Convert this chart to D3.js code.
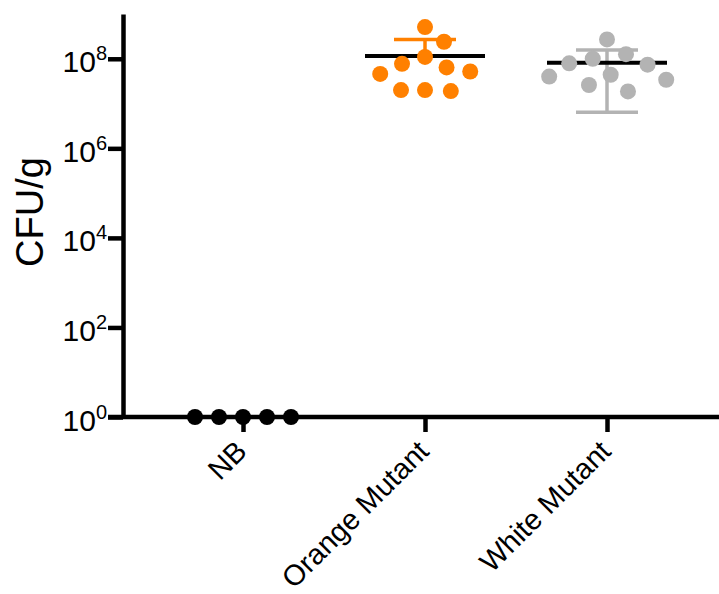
<!DOCTYPE html>
<html>
<head>
<meta charset="utf-8">
<script src="https://cdn.jsdelivr.net/npm/d3@7"></script>
<style>
  body { margin: 0; background: #fff; }
  svg { display: block; }
</style>
</head>
<body>
<div id="chart"></div>
<script>
// values (CFU/g)
var groups = ['NB', 'Orange Mutant', 'White Mutant'];
var nbValues = [1, 1, 1, 1, 1];
var orangeValues = [5.1e8, 2.4e8, 1.1e8, 7.7e7, 5.2e7, 6.4e7, 4.6e7, 2.0e7, 1.9e7, 2.0e7];
var whiteValues = [2.7e8, 1.27e8, 1.0e8, 7.9e7, 7.4e7, 4.4e7, 4.0e7, 3.4e7, 2.6e7, 1.87e7];
var groupColors = ['#000000', '#FF8000', '#B3B3B3'];
var yTicks = [1, 1e2, 1e4, 1e6, 1e8];

var width = 719;
var height = 594;
var mainFont = '"Liberation Sans", Arial, Helvetica, sans-serif';
var axisWidth = 4.5;
var dotRadius = 8;
var minGap = 24; // centre distance between dots in the swarm

var series = [nbValues, orangeValues, whiteValues];

var svg = d3.select('#chart').append('svg')
    .attr('width', width)
    .attr('height', height)
    .style('font-family', mainFont);

var y = d3.scaleLog().domain([1, 1e9]).range([417, 14]);
var x = d3.scalePoint().domain(groups).range([243, 607]);
var axisX = 123;

// y axis
var yAxis = svg.append('g')
    .attr('transform', 'translate(' + axisX + ',0)')
    .call(d3.axisLeft(y).tickValues(yTicks).tickSize(15).tickSizeOuter(0).tickPadding(1));
yAxis.select('.domain').attr('stroke-width', axisWidth);
yAxis.selectAll('.tick line').attr('stroke-width', axisWidth);
yAxis.selectAll('.tick text')
    .attr('font-size', 30)
    .attr('font-family', mainFont)
    .attr('dy', 13)
    .text(null)
    .each(function(d) {
        var t = d3.select(this);
        t.append('tspan').text('10');
        t.append('tspan')
            .attr('dy', -12)
            .attr('font-size', 20)
            .text(Math.round(Math.log10(d)));
    });

// x axis
var xAxis = svg.append('g')
    .attr('transform', 'translate(0,' + y(1) + ')')
    .call(d3.axisBottom(x).tickSize(15).tickSizeOuter(0));
xAxis.select('.domain').remove();
xAxis.insert('line', ':first-child')
    .attr('x1', axisX - 15)
    .attr('x2', width)
    .attr('stroke', '#000')
    .attr('stroke-width', axisWidth);
xAxis.selectAll('.tick line').attr('stroke-width', axisWidth);
xAxis.selectAll('.tick text')
    .attr('font-size', 29)
    .attr('font-family', mainFont)
    .attr('x', 0)
    .attr('y', 0)
    .attr('dy', 0)
    .attr('text-anchor', 'end')
    .attr('transform', 'translate(5,36) rotate(-45)');

// y label
svg.append('text')
    .attr('transform', 'translate(43,212) rotate(-90)')
    .attr('text-anchor', 'middle')
    .attr('font-size', 38)
    .text('CFU/g');

// simple greedy beeswarm: each dot goes to the free spot closest to the centre
function swarm(values) {
    var pts = values.map(function(v, i) { return { v: v, i: i, py: y(v) }; });
    var order = pts.slice().sort(function(a, b) { return a.py - b.py; });
    var placed = [];
    order.forEach(function(p) {
        var cands = [0];
        placed.forEach(function(q) {
            var dy = Math.abs(p.py - q.py);
            if (dy < minGap) {
                var dx = Math.sqrt(minGap * minGap - dy * dy);
                cands.push(q.off - dx, q.off + dx);
            }
        });
        var ok = cands.filter(function(c) {
            return placed.every(function(q) {
                var dy = p.py - q.py;
                return (c - q.off) * (c - q.off) + dy * dy >= minGap * minGap - 0.01;
            });
        });
        ok.sort(function(a, b) { return Math.abs(a) - Math.abs(b) || b - a; });
        p.off = ok[0];
        placed.push(p);
    });
    return pts;
}

// mean and SD bars
series.forEach(function(values, gi) {
    var cx = x(groups[gi]);
    var mean = d3.mean(values);
    var sd = d3.deviation(values) || 0;
    var color = groupColors[gi];
    var g = svg.append('g');
    if (sd > 0) {
        var top = mean + sd;
        var bottom = mean - sd;
        var yLow = bottom > 0 ? y(bottom) : y(mean);
        g.append('line')
            .attr('x1', cx).attr('x2', cx)
            .attr('y1', y(top)).attr('y2', yLow)
            .attr('stroke', color).attr('stroke-width', 3.5);
        g.append('line')
            .attr('x1', cx - 31).attr('x2', cx + 31)
            .attr('y1', y(top)).attr('y2', y(top))
            .attr('stroke', color).attr('stroke-width', 3.5);
        if (bottom > 0) {
            g.append('line')
                .attr('x1', cx - 31).attr('x2', cx + 31)
                .attr('y1', y(bottom)).attr('y2', y(bottom))
                .attr('stroke', color).attr('stroke-width', 3.5);
        }
    }
    g.append('line')
        .attr('x1', cx - 60).attr('x2', cx + 60)
        .attr('y1', y(mean)).attr('y2', y(mean))
        .attr('stroke', '#000').attr('stroke-width', 4);
});

// dots
series.forEach(function(values, gi) {
    var cx = x(groups[gi]);
    svg.append('g').selectAll('circle')
        .data(swarm(values))
        .join('circle')
        .attr('cx', function(d) { return cx + d.off; })
        .attr('cy', function(d) { return d.py; })
        .attr('r', dotRadius)
        .attr('fill', groupColors[gi]);
});
</script>
</body>
</html>
